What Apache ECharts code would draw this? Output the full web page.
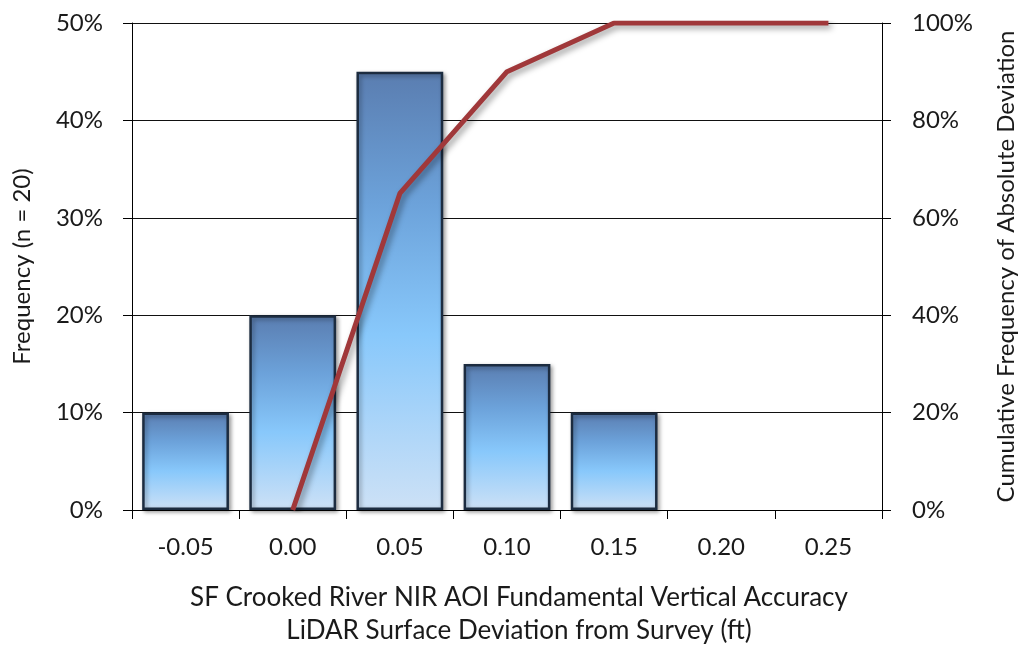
<!DOCTYPE html>
<html><head><meta charset="utf-8">
<script src="https://cdn.jsdelivr.net/npm/echarts@6/dist/echarts.min.js"></script>
<style>html,body{margin:0;padding:0;background:#fff}#c{width:1026px;height:647px}</style>
</head><body><div id="c"></div>
<script>
const categories = ['-0.05','0.00','0.05','0.10','0.15','0.20','0.25'];
const frequency = [10, 20, 45, 15, 10, 0, 0];
const cumulative = [null, 0, 65, 90, 100, 100, 100];
const leftTicks = [0, 10, 20, 30, 40, 50];
const rightTicks = [0, 20, 40, 60, 80, 100];
const xTitle = ['SF Crooked River NIR AOI Fundamental Vertical Accuracy', 'LiDAR Surface Deviation from Survey (ft)'];
const font = 'Lato, "Open Sans", sans-serif';
const txt = '#1a1a1a';

const chart = echarts.init(document.getElementById('c'));
chart.setOption({
  animation: false,
  backgroundColor: '#fff',
  grid: {left: 132, right: 138, top: 23, bottom: 137},
  xAxis: {
    type: 'category', data: categories, boundaryGap: true,
    axisLine: {lineStyle: {color: '#000', width: 1}},
    axisTick: {show: true, alignWithLabel: false, length: 9, lineStyle: {color: '#000'}},
    axisLabel: {color: txt, fontSize: 24, fontFamily: font, margin: 25}
  },
  yAxis: [{
    type: 'value', min: 0, max: leftTicks[leftTicks.length-1], interval: 10,
    name: 'Frequency (n = 20)', nameLocation: 'middle', nameGap: 98, nameRotate: 90,
    nameTextStyle: {color: txt, fontSize: 24, fontFamily: font},
    axisLine: {show: true, lineStyle: {color: '#000'}},
    axisTick: {show: true, length: 9, lineStyle: {color: '#000'}},
    axisLabel: {formatter: '{value}%', color: txt, fontSize: 24, fontFamily: font, margin: 29},
    splitLine: {show: true, lineStyle: {color: '#111', width: 1}}
  }, {
    type: 'value', min: 0, max: rightTicks[rightTicks.length-1], interval: 20,
    name: 'Cumulative Frequency of Absolute Deviation', nameLocation: 'middle', nameGap: 112, nameRotate: 90,
    nameTextStyle: {color: txt, fontSize: 24, fontFamily: font},
    axisLine: {show: true, lineStyle: {color: '#000'}},
    axisTick: {show: true, length: 9, lineStyle: {color: '#000'}},
    axisLabel: {formatter: '{value}%', color: txt, fontSize: 24, fontFamily: font, margin: 30},
    splitLine: {show: false}
  }],
  series: [{
    type: 'bar', data: frequency.map(v => v === 0 ? null : v), yAxisIndex: 0, barCategoryGap: '19%',
    itemStyle: {
      color: new echarts.graphic.LinearGradient(0, 0, 0, 1, [
        {offset: 0, color: '#5a7db0'},
        {offset: 0.3, color: '#6ca2da'},
        {offset: 0.6, color: '#88c8fb'},
        {offset: 1, color: '#cde1f6'}
      ]),
      borderColor: '#1c2c40', borderWidth: 2.5,
      shadowColor: 'rgba(0,0,0,0.35)', shadowBlur: 4, shadowOffsetX: 2, shadowOffsetY: 2
    }
  }, {
    type: 'line', data: cumulative, yAxisIndex: 1, symbol: 'none',
    lineStyle: {color: '#a0383a', width: 5, shadowColor: 'rgba(0,0,0,0.4)', shadowBlur: 6, shadowOffsetX: 3, shadowOffsetY: 3},
    z: 5
  }],
  graphic: [{
    type: 'text', x: 519, y: 598,
    style: {text: xTitle[0], fontSize: 26, fontFamily: font, fill: txt, textAlign: 'center', textVerticalAlign: 'middle'}
  }, {
    type: 'text', x: 519, y: 631,
    style: {text: xTitle[1], fontSize: 26, fontFamily: font, fill: txt, textAlign: 'center', textVerticalAlign: 'middle'}
  }]
});
</script></body></html>
